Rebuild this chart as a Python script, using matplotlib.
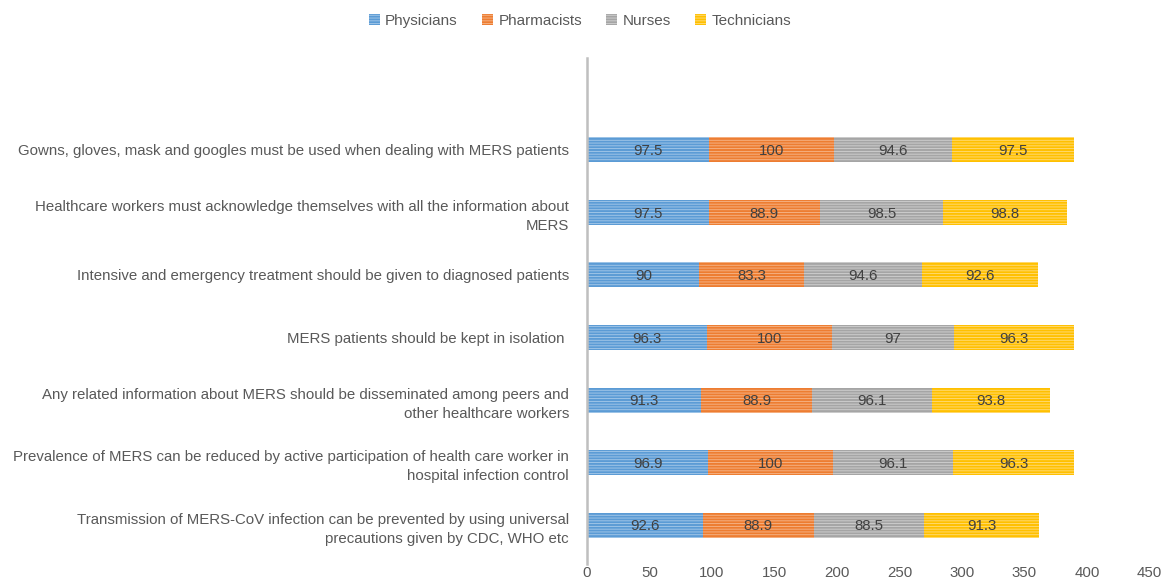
import numpy as np
import matplotlib
matplotlib.use('Agg')
import matplotlib.pyplot as plt
from matplotlib.patches import Patch

plt.rcParams['font.family'] = ['Liberation Sans', 'DejaVu Sans']
plt.rcParams['hatch.linewidth'] = 0.6

# Data (bottom to top)
statements = [
    'Transmission of MERS-CoV infection can be prevented by using universal\nprecautions given by CDC, WHO etc',
    'Prevalence of MERS can be reduced by active participation of health care worker in\nhospital infection control',
    'Any related information about MERS should be disseminated among peers and\nother healthcare workers',
    'MERS patients should be kept in isolation ',
    'Intensive and emergency treatment should be given to diagnosed patients',
    'Healthcare workers must acknowledge themselves with all the information about\nMERS',
    'Gowns, gloves, mask and googles must be used when dealing with MERS patients',
]
groups = ['Physicians', 'Pharmacists', 'Nurses', 'Technicians']
physicians = [92.6, 96.9, 91.3, 96.3, 90, 97.5, 97.5]
pharmacists = [88.9, 100, 88.9, 100, 83.3, 88.9, 100]
nurses = [88.5, 96.1, 96.1, 97, 94.6, 98.5, 94.6]
technicians = [91.3, 96.3, 93.8, 96.3, 92.6, 98.8, 97.5]

colors = ['#5B9BD5', '#ED7D31', '#A5A5A5', '#FFC000']
hatch_colors = ['#A9CBEA', '#F6B88E', '#D2D2D2', '#FFDD80']
series = [physicians, pharmacists, nurses, technicians]

fig = plt.figure(figsize=(11.67, 5.85), dpi=100)
ax = fig.add_axes([0.503, 0.036, 0.482, 0.865])

y = np.arange(len(statements))
left = np.zeros(len(statements))
for name, vals, c, hc in zip(groups, series, colors, hatch_colors):
    vals = np.array(vals)
    ax.barh(y, vals, left=left, height=0.4, color=c, edgecolor=hc,
            linewidth=0, hatch='------', label=name)
    for yi, l, v in zip(y, left, vals):
        ax.text(l + v / 2, yi - 0.02, f'{v:g}', ha='center', va='center',
                fontsize=10.8, color='#404040')
    left += vals

ax.set_xlim(0, 450)
ax.set_ylim(-0.62, 7.47)
ax.set_xticks(np.arange(0, 451, 50))
ax.set_yticks(y)
ax.set_yticklabels(statements, fontsize=10.8, color='#595959', linespacing=1.45)
ax.tick_params(axis='x', length=0, labelsize=10.8, labelcolor='#595959', pad=1.5)
ax.tick_params(axis='y', length=0, pad=13)
for s in ['top', 'right', 'bottom']:
    ax.spines[s].set_visible(False)
ax.spines['left'].set_color('#BFBFBF')
ax.spines['left'].set_linewidth(1.8)

handles = [Patch(facecolor=c, edgecolor=hc, hatch='------', linewidth=0)
           for c, hc in zip(colors, hatch_colors)]
fig.legend(handles, groups, loc='upper center', bbox_to_anchor=(0.497, 1.0),
           ncol=4, frameon=False, fontsize=11, handlelength=0.7,
           handleheight=0.7, columnspacing=1.6, handletextpad=0.35,
           labelcolor='#595959')

fig.savefig('out.png', dpi=100)
